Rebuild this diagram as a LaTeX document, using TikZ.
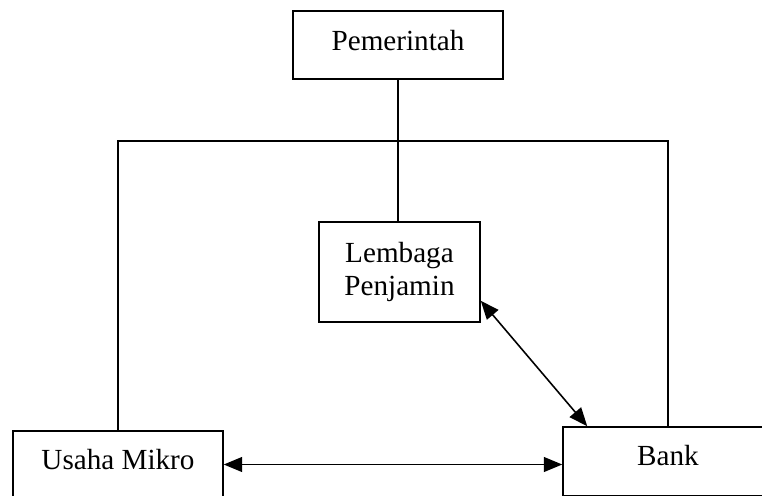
\documentclass[tikz,border=0pt]{standalone}
\usepackage{fontspec}
\setmainfont{Liberation Serif}
\usetikzlibrary{arrows.meta,calc}
\tikzset{
  kotak/.style={draw,line width=0.9pt,inner sep=0pt,align=center,font=\fontsize{16.6}{18.8}\selectfont},
  naik/.style={text depth=5.5pt},
  panah/.style={line width=0.9pt,{Triangle[length=10.5pt,width=8.5pt]}-{Triangle[length=10.5pt,width=8.5pt]}}
}
\begin{document}
\begin{tikzpicture}[x=0.02cm,y=-0.02cm]
		\useasboundingbox (0,0) rectangle (762,495);
		\node[kotak,naik,minimum width=4.2cm,minimum height=1.36cm] (pem) at (398,45) {Pemerintah};
		\node[kotak,minimum width=3.22cm,minimum height=2cm] (lem) at (399.5,272) {Lembaga\\Penjamin};
		\node[kotak,naik,minimum width=4.2cm,minimum height=1.34cm] (usaha) at (118,464.5) {Usaha Mikro};
		\node[kotak,text depth=7pt,minimum width=4.2cm,minimum height=1.38cm] (bank) at (668,461.5) {Bank};
		\coordinate (garis) at (398,141);
		\draw[line width=0.9pt] (pem.south) -- (pem.south |- lem.north);
		\draw[line width=0.9pt] (usaha.north) |- (garis) -| (bank.north);
		\draw[panah] (usaha.east) -- (usaha.east -| bank.west);
		\draw[panah] ($(lem.south east)+(0,-22)$) -- ($(bank.north west)+(25,0)$);
		\end{tikzpicture}
\end{document}
